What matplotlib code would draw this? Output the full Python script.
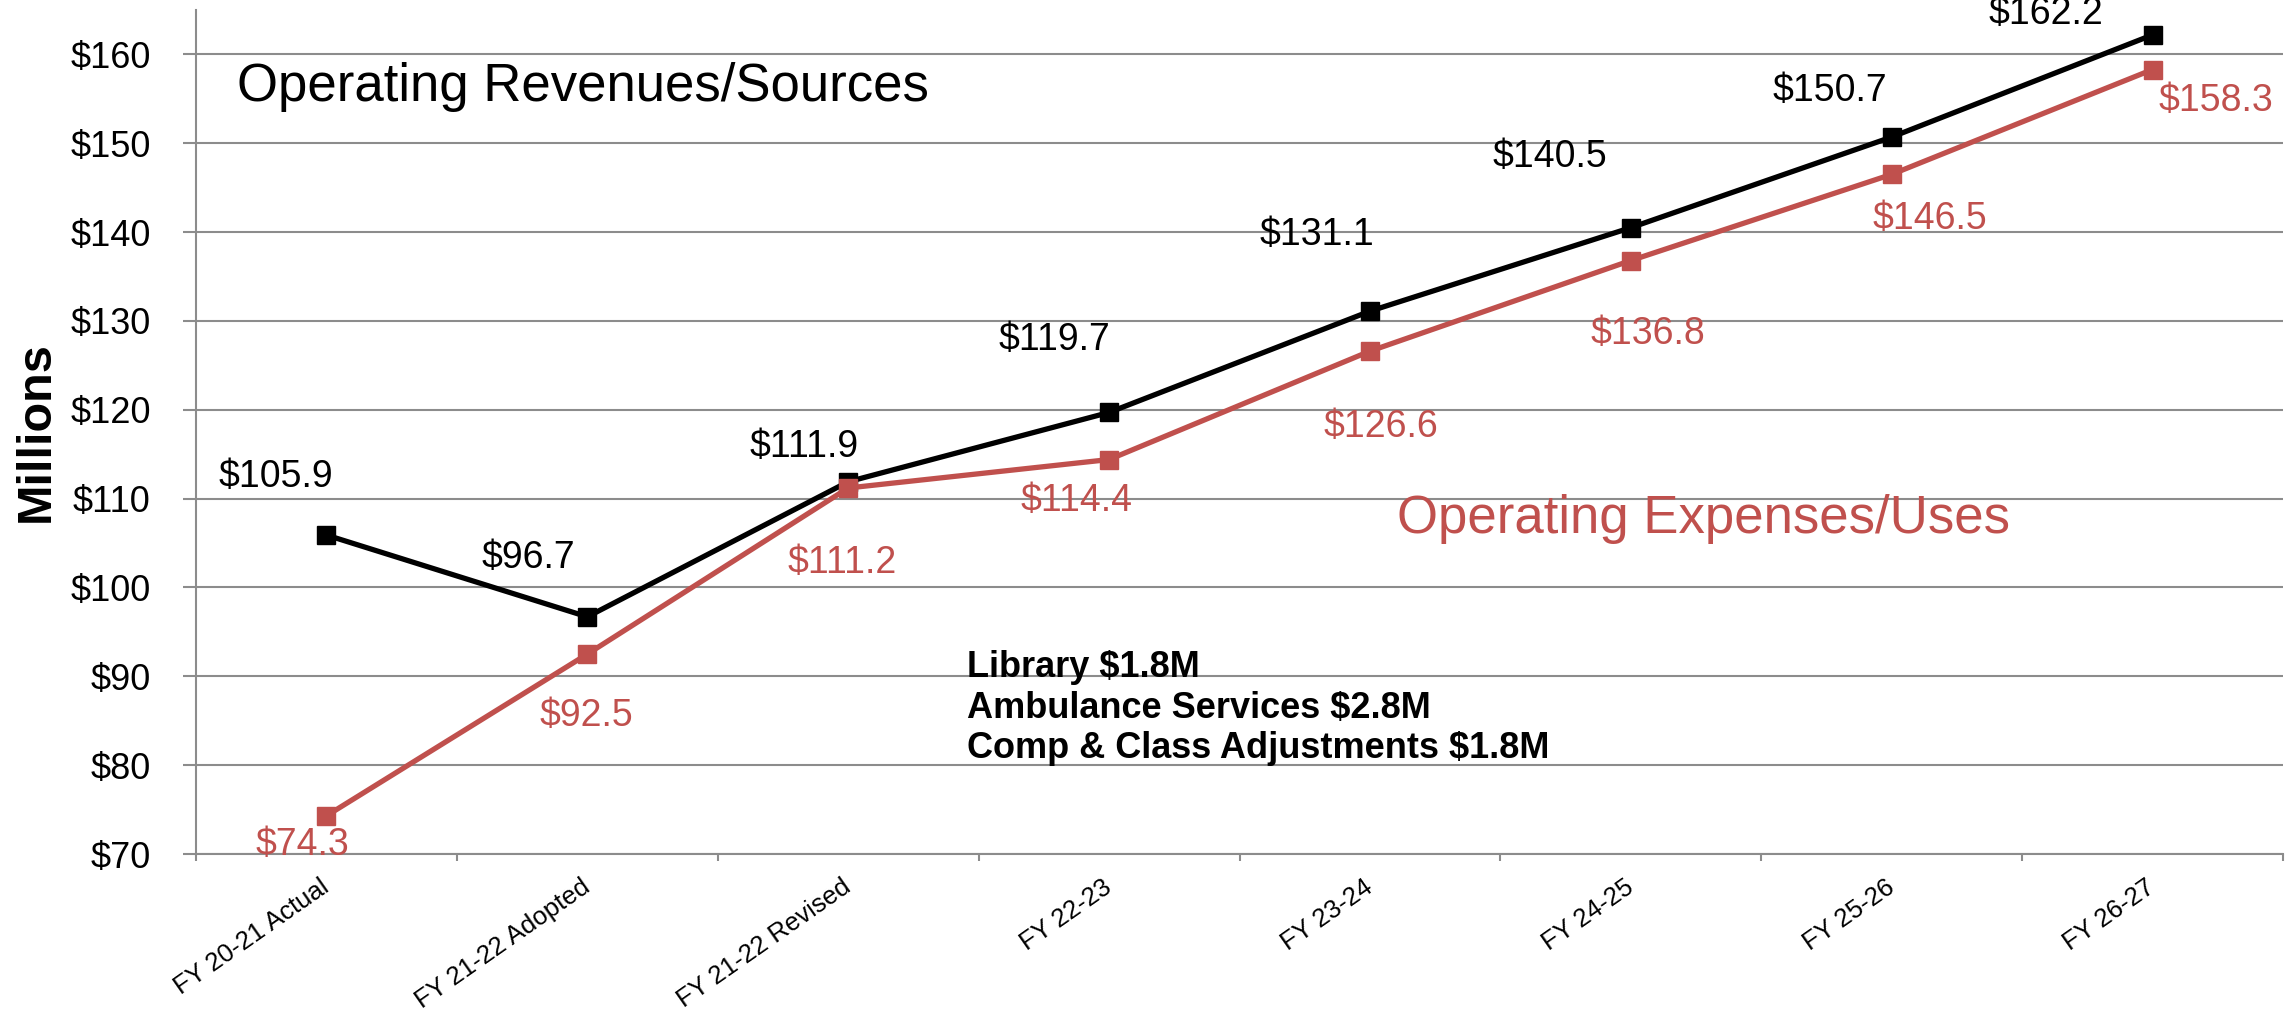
import matplotlib.pyplot as plt
from matplotlib.ticker import FixedLocator, FuncFormatter

plt.rcParams['font.family'] = ['Liberation Sans', 'DejaVu Sans']

# Data (millions)
years = ['FY 20-21 Actual', 'FY 21-22 Adopted', 'FY 21-22 Revised', 'FY 22-23',
         'FY 23-24', 'FY 24-25', 'FY 25-26', 'FY 26-27']
revenues = [105.9, 96.7, 111.9, 119.7, 131.1, 140.5, 150.7, 162.2]
expenses = [74.3, 92.5, 111.2, 114.4, 126.6, 136.8, 146.5, 158.3]
notes = ['Library $1.8M', 'Ambulance Services $2.8M', 'Comp & Class Adjustments $1.8M']

# label offsets in pixels (dx, dy) from each point
rev_off = [(-51, 58), (-59, 59), (-44, 35), (-55, 72), (-53, 76), (-81, 71), (-62, 46), (-107, 21)]
exp_off = [(-24, -29), (-1, -62), (-6, -75), (-33, -41), (11, -76), (17, -73), (38, -45), (63, -31)]

RED = '#C0504D'
GRID = '#8C8C8C'


def plot():
    fig = plt.figure(figsize=(22.92, 10.09), dpi=100)
    ax = fig.add_axes([196 / 2292, 1 - 854 / 1009, 2087 / 2292, 844 / 1009])

    x = list(range(len(years)))
    ax.plot(x, revenues, color='black', lw=3.8, marker='s', ms=13, zorder=3)
    ax.plot(x, expenses, color=RED, lw=3.8, marker='s', ms=13, zorder=4)

    for i, v in enumerate(revenues):
        ax.annotate(f'${v:.1f}', (i, v), xytext=rev_off[i], textcoords='offset pixels',
                    ha='center', va='center', fontsize=27, color='black')
    for i, v in enumerate(expenses):
        ax.annotate(f'${v:.1f}', (i, v), xytext=exp_off[i], textcoords='offset pixels',
                    ha='center', va='center', fontsize=27, color=RED)

    ax.set_xlim(-0.5, len(years) - 0.5)
    ax.set_ylim(70, 165)
    ax.set_yticks(range(70, 161, 10))
    ax.yaxis.set_major_formatter(FuncFormatter(lambda v, p: f'${v:.0f}'))
    ax.set_xticks(x)
    ax.set_xticklabels(years, rotation=35, ha='right', va='center',
                       rotation_mode='anchor', fontsize=18.5)
    ax.xaxis.set_minor_locator(FixedLocator([i - 0.5 for i in range(len(years) + 1)]))
    ax.tick_params(axis='x', which='major', length=0, pad=22)
    ax.tick_params(axis='x', which='minor', length=5, width=1.5, color=GRID)
    ax.tick_params(axis='y', length=9.5, width=1.5, color=GRID, labelsize=26, pad=23)

    ax.grid(axis='y', color=GRID, lw=1.5)
    ax.set_axisbelow(True)
    for s in ['top', 'right']:
        ax.spines[s].set_visible(False)
    for s in ['left', 'bottom']:
        ax.spines[s].set_color(GRID)
        ax.spines[s].set_linewidth(1.5)

    ax.set_ylabel('Millions', fontsize=35, fontweight='bold', labelpad=8)

    ax.text(0.0196, 0.892, 'Operating Revenues/Sources', transform=ax.transAxes,
            fontsize=38, va='baseline', ha='left')
    ax.text(0.5755, 0.380, 'Operating Expenses/Uses', transform=ax.transAxes,
            fontsize=38, va='baseline', ha='left', color=RED)
    # multi-line baseline alignment uses the last line
    ax.text(0.3694, 0.1137, '\n'.join(notes), transform=ax.transAxes,
            fontsize=26, fontweight='bold', va='baseline', ha='left', linespacing=1.2)

    fig.savefig('out.png', dpi=100)


def main():
    plot()


if __name__ == "__main__":
    main()
